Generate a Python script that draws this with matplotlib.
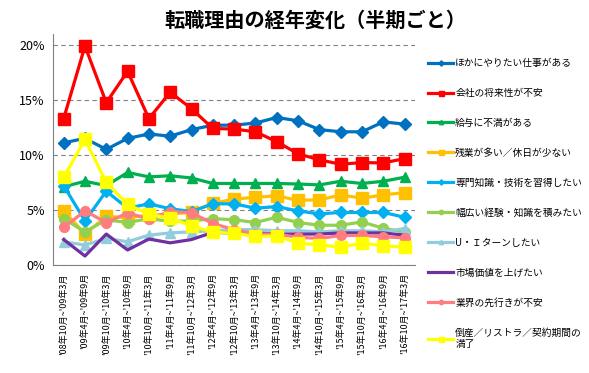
import matplotlib
matplotlib.use("Agg")
import matplotlib.pyplot as plt
from matplotlib.ticker import FuncFormatter

plt.rcParams['font.family'] = ['Noto Sans CJK JP', 'DejaVu Sans']

# 半期ごとの期間ラベル
periods = ["'08年10月~'09年3月", "'09年4月~'09年9月", "'09年10月~'10年3月", "'10年4月~'10年9月",
           "'10年10月~'11年3月", "'11年4月~'11年9月", "'11年10月~'12年3月", "'12年4月~'12年9月",
           "'12年10月~'13年3月", "'13年4月~'13年9月", "'13年10月~'14年3月", "'14年4月~'14年9月",
           "'14年10月~'15年3月", "'15年4月~'15年9月", "'15年10月~'16年3月", "'16年4月~'16年9月",
           "'16年10月~'17年3月"]

# 各転職理由の割合 (%)
hokani = [11.1, 11.5, 10.5, 11.5, 11.9, 11.7, 12.3, 12.7, 12.7, 12.9, 13.4, 13.1, 12.3, 12.1, 12.1, 13.0, 12.8]
shourai = [13.3, 19.9, 14.75, 17.6, 13.3, 15.7, 14.2, 12.4, 12.35, 12.1, 11.2, 10.1, 9.55, 9.15, 9.3, 9.27, 9.66]
kyuyo = [7.1, 7.6, 7.2, 8.4, 8.0, 8.1, 7.9, 7.4, 7.4, 7.4, 7.4, 7.35, 7.27, 7.6, 7.4, 7.6, 7.97]
zangyo = [4.9, 2.8, 4.4, 4.3, 4.5, 4.6, 4.8, 5.6, 5.97, 6.15, 6.27, 5.88, 5.9, 6.36, 6.06, 6.36, 6.57]
senmon = [7.2, 4.0, 6.7, 5.15, 5.55, 5.1, 4.85, 5.55, 5.55, 5.15, 5.3, 4.9, 4.64, 4.76, 4.76, 4.76, 4.33]
habahiroi = [4.2, 3.0, 4.1, 3.85, 4.2, 3.95, 4.0, 4.2, 4.1, 3.85, 4.33, 3.85, 3.6, 3.6, 3.9, 3.33, 2.97]
ui_turn = [2.1, 1.8, 2.4, 2.1, 2.7, 2.9, 3.0, 3.1, 3.2, 3.2, 3.1, 3.1, 3.0, 3.1, 3.1, 3.0, 3.3]
shijou = [2.3, 0.8, 2.8, 1.35, 2.35, 2.0, 2.3, 2.95, 2.9, 2.9, 2.8, 2.8, 2.8, 2.9, 2.9, 2.9, 2.7]
gyoukai = [3.4, 4.9, 3.85, 4.7, 4.2, 4.85, 4.75, 3.75, 3.2, 2.8, 2.8, 2.5, 2.4, 2.67, 2.67, 2.55, 2.45]
tousan = [7.95, 11.4, 7.5, 5.5, 4.6, 4.25, 3.55, 2.97, 2.88, 2.58, 2.64, 1.97, 1.82, 1.6, 1.97, 1.73, 1.6]

series = [
    ("ほかにやりたい仕事がある", hokani, "#0070C0", "D", 6),
    ("会社の将来性が不安", shourai, "#FF0000", "s", 8),
    ("給与に不満がある", kyuyo, "#00B050", "^", 7),
    ("残業が多い／休日が少ない", zangyo, "#FFC000", "s", 8),
    ("専門知識・技術を習得したい", senmon, "#00B0F0", "D", 6),
    ("幅広い経験・知識を積みたい", habahiroi, "#92D050", "o", 7),
    ("U・Ｉターンしたい", ui_turn, "#93CDDD", "^", 7),
    ("市場価値を上げたい", shijou, "#7030A0", None, 0),
    ("業界の先行きが不安", gyoukai, "#FF7C80", "o", 7),
    ("倒産／リストラ／契約期間の\n満了", tousan, "#FFFF00", "s", 8),
]

fig = plt.figure(figsize=(5.89, 3.73), dpi=100)
ax = fig.add_axes([0.09, 0.29, 0.615, 0.619])

x = list(range(len(periods)))
for label, vals, color, marker, ms in series:
    ax.plot(x, [v / 100 for v in vals], color=color, lw=2.3, marker=marker,
            markersize=ms, label=label)

ax.set_xlim(-0.5, len(periods) - 0.5)
ax.set_ylim(0, 0.21)
ax.set_yticks([0, 0.05, 0.10, 0.15, 0.20])
ax.yaxis.set_major_formatter(FuncFormatter(lambda v, p: f"{v*100:.0f}%"))
ax.set_xticks(x)
ax.set_xticklabels(periods, rotation=90, fontsize=6.5)
ax.tick_params(axis='y', labelsize=9, length=0, pad=6)
ax.tick_params(axis='x', length=0, pad=6)
ax.grid(axis='y', linestyle=(0, (4, 3)), color='#808080', lw=0.8)
for s in ['top', 'right']:
    ax.spines[s].set_visible(False)
for s in ['left', 'bottom']:
    ax.spines[s].set_color('#808080')

fig.text(0.535, 0.945, "転職理由の経年変化（半期ごと）", fontsize=14.5,
         fontweight='bold', ha='center', va='center')

fig.legend(loc='upper left', bbox_to_anchor=(0.72, 0.855), frameon=False,
           fontsize=7, labelspacing=2.05, handlelength=2.6, handletextpad=0.2,
           markerscale=0.45, borderaxespad=0)

fig.savefig("out.png", dpi=100)
